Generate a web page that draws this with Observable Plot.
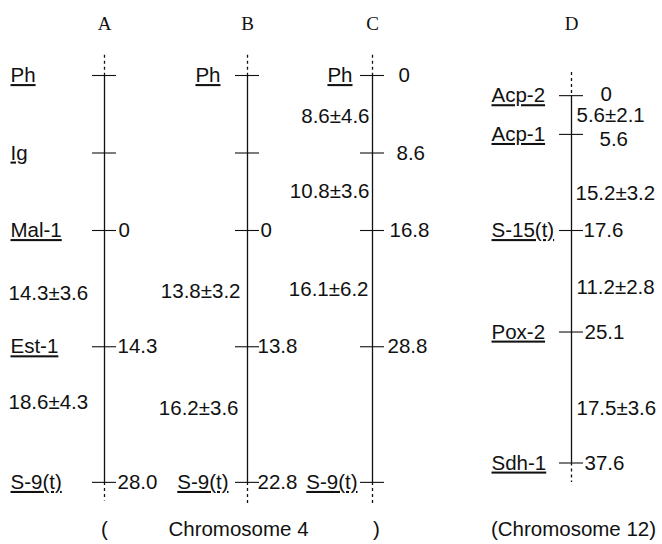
<!DOCTYPE html>
<html><head><meta charset="utf-8">
<script src="https://cdn.jsdelivr.net/npm/d3@7"></script>
<script src="https://cdn.jsdelivr.net/npm/@observablehq/plot@0.6"></script>
<style>
body{margin:0;background:#fff;}
.ul text{text-decoration:underline;text-decoration-thickness:1.4px;text-underline-offset:4px;}
</style></head><body><div id="chart"></div>
<script>
// ---- data ----
const mapNames = ["A", "B", "C", "D"];
const lociA = ["Ph", "Ig", "Mal-1", "Est-1", "S-9(t)"];
const cmA = [null, null, 0, 14.3, 28.0];
const intMeanA = [14.3, 18.6];
const intSeA = [3.6, 4.3];
const lociB = ["Ph", "", "", "", "S-9(t)"];
const cmB = [null, null, 0, 13.8, 22.8];
const intMeanB = [13.8, 16.2];
const intSeB = [3.2, 3.6];
const lociC = ["Ph", "", "", "", "S-9(t)"];
const cmC = [0, 8.6, 16.8, 28.8, null];
const intMeanC = [8.6, 10.8, 16.1];
const intSeC = [4.6, 3.6, 6.2];
const lociD = ["Acp-2", "Acp-1", "S-15(t)", "Pox-2", "Sdh-1"];
const cmD = [0, 5.6, 17.6, 25.1, 37.6];
const intMeanD = [5.6, 15.2, 11.2, 17.5];
const intSeD = [2.1, 3.2, 2.8, 3.6];
const captionTexts = ["(", "Chromosome 4", ")", "(Chromosome 12)"];

// ---- layout (drawing positions, not data) ----
const colX = [104, 247, 372, 571];
const rows4 = [0, 1, 2, 3.5, 5.25];
const rowsD = [0.26, 0.76, 2, 3.31, 5.0];
const layout = [
  {rows: rows4, locAnchor: "start", locDx: [-94,-94,-94,-94,-94], valDx: [0,0,14,13,13], valDy: [0,0,0,0,0],
   intRows: [2.81, 4.22], intAnchor: "start", intDx: [-96,-96], dashTop: 0.26, dashBot: 0.24},
  {rows: rows4, locAnchor: "end", locDx: [-27,0,0,0,-19], valDx: [0,0,13,10,10], valDy: [0,0,0,0,0],
   intRows: [2.79, 4.29], intAnchor: "end", intDx: [-7,-9], dashTop: 0.26, dashBot: 0.29},
  {rows: rows4, locAnchor: "end", locDx: [-20,0,0,0,-15], valDx: [26,24,17,15,0], valDy: [0,0,0,0,0],
   intRows: [0.53, 1.49, 2.76], intAnchor: "end", intDx: [-3,-3,-4], dashTop: 0.26, dashBot: 0.29},
  {rows: rowsD, locAnchor: "start", locDx: [-80,-80,-80,-80,-80], valDx: [29,28,12,13,13], valDy: [-1,5,0,0,0],
   intRows: [0.52, 1.52, 2.74, 4.29], intAnchor: "start", intDx: [5,4,5,5], dashTop: 0.30, dashBot: 0.25}
];
const rowPx = 77.5;
const titleRow = -0.67;
const captionRow = 5.86;
const captionX = [104, 238, 376, 573];

const lociAll = [lociA, lociB, lociC, lociD];
const cmAll = [cmA, cmB, cmC, cmD];
const intMeans = [intMeanA, intMeanB, intMeanC, intMeanD];
const intSes = [intSeA, intSeB, intSeC, intSeD];

const fmt = v => v === 0 ? "0" : v.toFixed(1);

const maps = mapNames.map((name, i) => ({
  name, x: colX[i], top: layout[i].rows[0], bot: layout[i].rows[layout[i].rows.length - 1],
  dashTop: layout[i].dashTop, dashBot: layout[i].dashBot
}));
const loci = [];
const intervals = [];
mapNames.forEach((name, i) => {
  const L = layout[i];
  lociAll[i].forEach((loc, j) => {
    loci.push({map: name, x: colX[i], row: L.rows[j], locus: loc, cm: cmAll[i][j],
      anchor: L.locAnchor, locDx: L.locDx[j], valDx: L.valDx[j], valDy: L.valDy[j]});
  });
  intMeans[i].forEach((m, j) => {
    intervals.push({map: name, x: colX[i], row: L.intRows[j], label: `${m.toFixed(1)}±${intSes[i][j].toFixed(1)}`,
      anchor: L.intAnchor, dx: L.intDx[j]});
  });
});
const captions = captionTexts.map((t, i) => ({t, x: captionX[i]}));

const sans = "'Liberation Sans', Arial, Helvetica, sans-serif";
const serif = "'Liberation Serif', 'Times New Roman', serif";
const FS = 20.5;
const ink = "#111";

const textMarks = [];
for (const a of ["start", "end"]) {
  textMarks.push(Plot.text(loci.filter(d => d.locus && d.anchor === a), {
    x: d => d.x + d.locDx, y: "row", text: "locus", textAnchor: a,
    fontSize: FS, fontFamily: sans, fill: ink, className: "ul"
  }));
  textMarks.push(Plot.text(intervals.filter(d => d.anchor === a), {
    x: d => d.x + d.dx, y: "row", text: "label", textAnchor: a,
    fontSize: FS, fontFamily: sans, fill: ink
  }));
}

const chart = Plot.plot({
  width: 662, height: 544,
  marginTop: 0, marginBottom: 0, marginLeft: 0, marginRight: 0,
  x: {type: "linear", domain: [0, 662], range: [0, 662], axis: null},
  y: {type: "linear", domain: [-75 / rowPx, (544 - 75) / rowPx], range: [0, 544], axis: null},
  style: {background: "#fff"},
  marks: [
    Plot.ruleX(maps, {x: "x", y1: "top", y2: "bot", stroke: ink, strokeWidth: 1.3}),
    Plot.ruleX(maps, {x: "x", y1: d => d.top - d.dashTop, y2: "top", stroke: ink, strokeWidth: 1.3, strokeDasharray: "3,3"}),
    Plot.ruleX(maps, {x: "x", y1: "bot", y2: d => d.bot + d.dashBot, stroke: ink, strokeWidth: 1.3, strokeDasharray: "3,3"}),
    Plot.ruleY(loci, {y: "row", x1: d => d.x - 12, x2: d => d.x + 12, stroke: ink, strokeWidth: 1.1}),
    ...textMarks,
    Plot.text(loci.filter(d => d.cm != null), {
      x: d => d.x + d.valDx, y: d => d.row + d.valDy / rowPx, text: d => fmt(d.cm), textAnchor: "start",
      fontSize: FS, fontFamily: sans, fill: ink
    }),
    Plot.text(maps, {x: "x", y: () => titleRow, text: "name", fontSize: 19, fontFamily: serif, fill: ink}),
    Plot.text(captions, {x: "x", y: () => captionRow, text: "t", fontSize: FS, fontFamily: sans, fill: ink})
  ]
});
document.getElementById("chart").appendChild(chart);
</script></body></html>
